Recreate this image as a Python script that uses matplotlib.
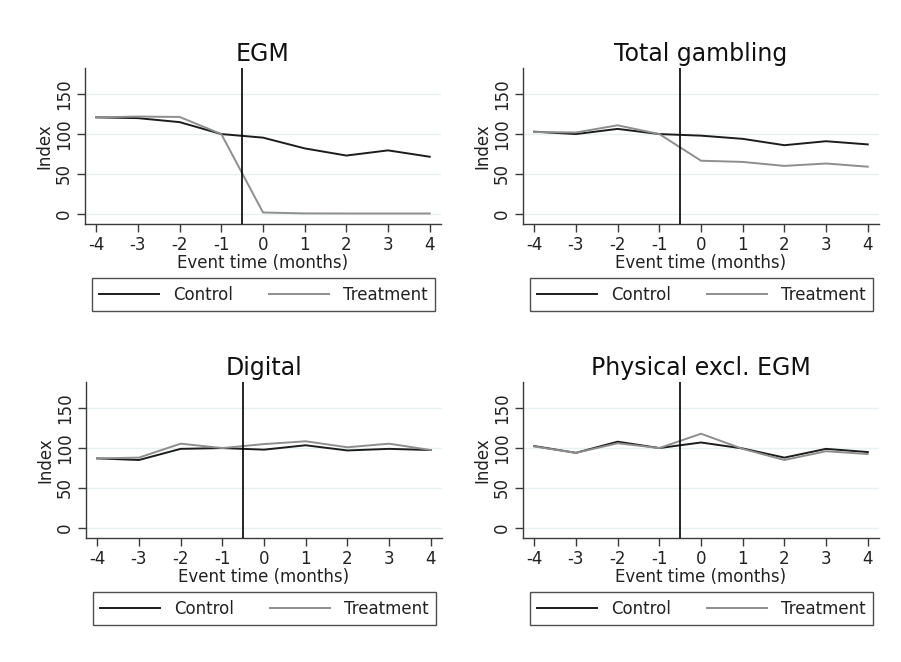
import matplotlib
matplotlib.use("Agg")
import matplotlib.pyplot as plt

# Event time in months relative to the intervention
event_time = [-4, -3, -2, -1, 0, 1, 2, 3, 4]

titles = ["EGM", "Total gambling", "Digital", "Physical excl. EGM"]

egm_control = [121, 120, 115, 100, 95.5, 82, 73, 79.5, 71.5]
egm_treatment = [121, 122, 121.5, 100, 1.5, 0.3, 0.2, 0.2, 0.2]

total_control = [103, 100, 106.5, 100, 98, 94, 86, 91, 87]
total_treatment = [102.5, 102, 111, 100, 66.5, 65, 60, 63, 59]

digital_control = [87, 85, 99, 100, 98, 103.5, 97, 99, 97.5]
digital_treatment = [87, 88, 105.5, 100, 105, 108.5, 101, 105.5, 97.5]

physical_control = [102.5, 94, 108, 100, 107, 99.5, 88, 99, 95]
physical_treatment = [102, 94, 106, 100, 118, 99, 85, 96, 92.5]

controls = [egm_control, total_control, digital_control, physical_control]
treatments = [egm_treatment, total_treatment, digital_treatment, physical_treatment]

y_ticks = [0, 50, 100, 150]
x_ticks = event_time

plt.rcParams["font.family"] = ["DejaVu Sans"]

fig = plt.figure(figsize=(9.01, 6.62), dpi=100)
fig.patch.set_facecolor("white")

W, H = 901, 662
# panel boxes in pixels: left, top, right, bottom
boxes = [
    (85, 68, 441, 224),
    (523, 68, 879, 224),
    (86, 382, 442, 538),
    (523, 382, 879, 538),
]

CONTROL_COLOR = "#1c1c1c"
TREAT_COLOR = "#8e8e8e"
SPINE_COLOR = "#3a3a3a"

for box, title, ctrl, trt in zip(boxes, titles, controls, treatments):
    l, t, r, b = box
    ax = fig.add_axes([l / W, (H - b) / H, (r - l) / W, (b - t) / H])
    ax.set_xlim(-4.27, 4.27)
    ax.set_ylim(-13, 183)
    for yv in y_ticks:
        ax.axhline(yv, color="#e8f0f3", lw=1.0, zorder=0)
    ax.axvline(-0.5, color="black", lw=1.2, zorder=3)
    ax.plot(event_time, ctrl, color=CONTROL_COLOR, lw=1.4, label="Control", zorder=2)
    ax.plot(event_time, trt, color=TREAT_COLOR, lw=1.4, label="Treatment", zorder=2)

    for side in ("top", "right"):
        ax.spines[side].set_visible(False)
    for side in ("left", "bottom"):
        ax.spines[side].set_color(SPINE_COLOR)
        ax.spines[side].set_linewidth(1.0)

    ax.set_xticks(x_ticks)
    ax.set_xticklabels([str(v) for v in x_ticks])
    ax.set_yticks(y_ticks)
    ax.set_yticklabels([str(v) for v in y_ticks], rotation=90, va="center")
    ax.tick_params(axis="both", direction="out", length=5.5, width=1.0,
                   color=SPINE_COLOR, labelsize=12, labelcolor="#222222", pad=3)

    ax.set_xlabel("Event time (months)", fontsize=12, color="#222222", labelpad=0)
    ax.set_ylabel("Index", fontsize=12, color="#222222", labelpad=1)
    ax.set_title(title, fontsize=17, color="#111111", pad=5)

    leg = ax.legend(loc="lower left", bbox_to_anchor=(0.019, -0.558, 0.964, 0.195),
                    mode="expand", ncol=2, fontsize=12, frameon=True,
                    fancybox=False, edgecolor="#222222", handlelength=3.6,
                    handletextpad=0.85, borderaxespad=0, borderpad=0.45)
    leg.get_frame().set_linewidth(1.0)
    for txt in leg.get_texts():
        txt.set_color("#222222")

fig.savefig("out.png", dpi=100, facecolor="white")
